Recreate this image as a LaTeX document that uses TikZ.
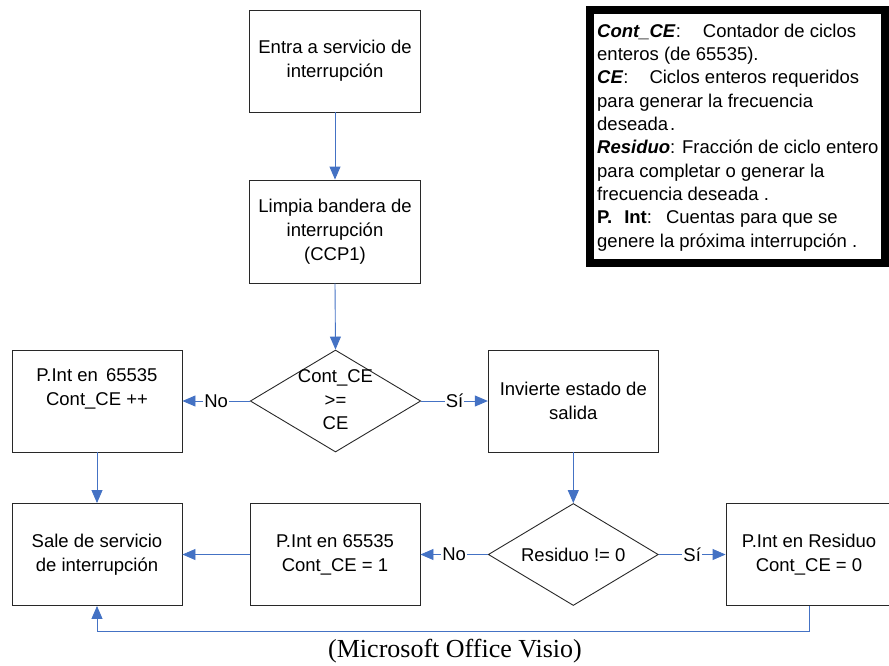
\documentclass[tikz,border=0pt]{standalone}
\usepackage{fontspec}
\setmainfont{Liberation Sans}
\newfontfamily\capfont{Liberation Serif}
\usetikzlibrary{arrows.meta,shapes.geometric}
\definecolor{connblue}{RGB}{68,114,196}
\definecolor{boxline}{RGB}{40,40,40}

\begin{document}
\begin{tikzpicture}[x=1pt,y=-1pt,
  every node/.style={font=\fontsize{18.5}{24}\selectfont},
  procbox/.style={draw=boxline, line width=0.9pt, minimum width=170pt,
    minimum height=102pt, inner sep=0pt, align=center},
  decision/.style={draw=boxline, line width=0.9pt, diamond,
    minimum width=170pt, minimum height=102pt, inner sep=0pt},
  conn/.style={draw=connblue, line width=0.9pt,
    -{Triangle[length=13pt,width=11pt]}},
  edgelabel/.style={fill=white, inner xsep=1pt, inner ysep=0pt},
  legendline/.style={anchor=base west, inner sep=0pt}
]
\useasboundingbox (0,0) rectangle (889,665);

% process boxes
\node[procbox, minimum width=171pt] (b1) at (335,61) {Entra a servicio de\\interrupción};
\node[procbox, minimum width=171pt, minimum height=103pt] (b2) at (335,231.5)
  {Limpia bandera de\\interrupción\\(CCP1)};
\node[procbox] (b3) at (97,401) {};
\node[align=center, inner sep=0pt] (t3) at (97,389) {P.Int en\, 65535\\Cont\_CE ++};
\node[procbox] (b4) at (573.3,401) {Invierte estado de\\salida};
\node[procbox, minimum width=166pt] (b5) at (809,554.5) {P.Int en Residuo\\Cont\_CE = 0};
\node[procbox] (b6) at (335,554.5) {P.Int en 65535\\Cont\_CE = 1};
\node[procbox] (b7) at (97,554.5) {Sale de servicio\\de interrupción};

% decisions
\node[decision, minimum width=170.5pt] (d1) at (335.5,401) {};
\node[align=center, inner sep=0pt, font=\fontsize{18.5}{23.5}\selectfont] (t1) at (335.5,400) {Cont\_CE\\>=\\CE};
\node[decision] (d2) at (573.3,554.5) {};
\node[inner sep=0pt] (t2) at (573.3,554.5) {Residuo != 0};

% connectors
\draw[conn] (b1.south) -- (b2.north);
\draw[conn] (b2.south) -- (d1.north);
\draw[conn] (d1.west) -- node[edgelabel] (n1) {No} (b3.east);
\draw[conn] (d1.east) -- node[edgelabel] (s1) {Sí} (b4.west);
\draw[conn] (b3.south) -- (b7.north);
\draw[conn] (b4.south) -- (d2.north);
\draw[conn] (d2.west) -- node[edgelabel] (n2) {No} (b6.east);
\draw[conn] (d2.east) -- node[edgelabel] (s2) {Sí} (b5.west);
\draw[conn] (b6.west) -- (b7.east);
\coordinate (lp) at (97,631);
\draw[conn] (b5.south) |- (lp) -- (b7.south);

% legend
\node[draw=black, line width=8pt, minimum width=295pt, minimum height=253pt,
  inner sep=0pt] (legend) at (737.5,136.5) {};
\node[legendline] (l1) at (597,37) {\textbf{\textit{Cont\_CE}}:\hspace{22pt}Contador de ciclos};
\node[legendline] (l2) at (597,60.3) {enteros (de 65535).};
\node[legendline] (l3) at (597,83.7) {\textbf{\textit{CE}}:\hspace{21pt}Ciclos enteros requeridos};
\node[legendline] (l4) at (597,107) {para generar la frecuencia};
\node[legendline] (l5) at (597,130.3) {deseada\hspace{2pt}.};
\node[legendline] (l6) at (597,153.7) {\textbf{\textit{Residuo}}: Fracción de ciclo entero};
\node[legendline] (l7) at (597,177) {para completar o generar la};
\node[legendline] (l8) at (597,200.3) {frecuencia deseada .};
\node[legendline] (l9) at (597,223.7) {\textbf{P.\hspace{12pt}Int}:\hspace{14pt}Cuentas para que se};
\node[legendline] (l10) at (597,247) {genere la próxima interrupción .};

% caption
\node[anchor=base, inner sep=0pt, font=\capfont\fontsize{26}{30}\selectfont] (cap)
  at (455,657) {(Microsoft Office Visio)};
\end{tikzpicture}
\end{document}
